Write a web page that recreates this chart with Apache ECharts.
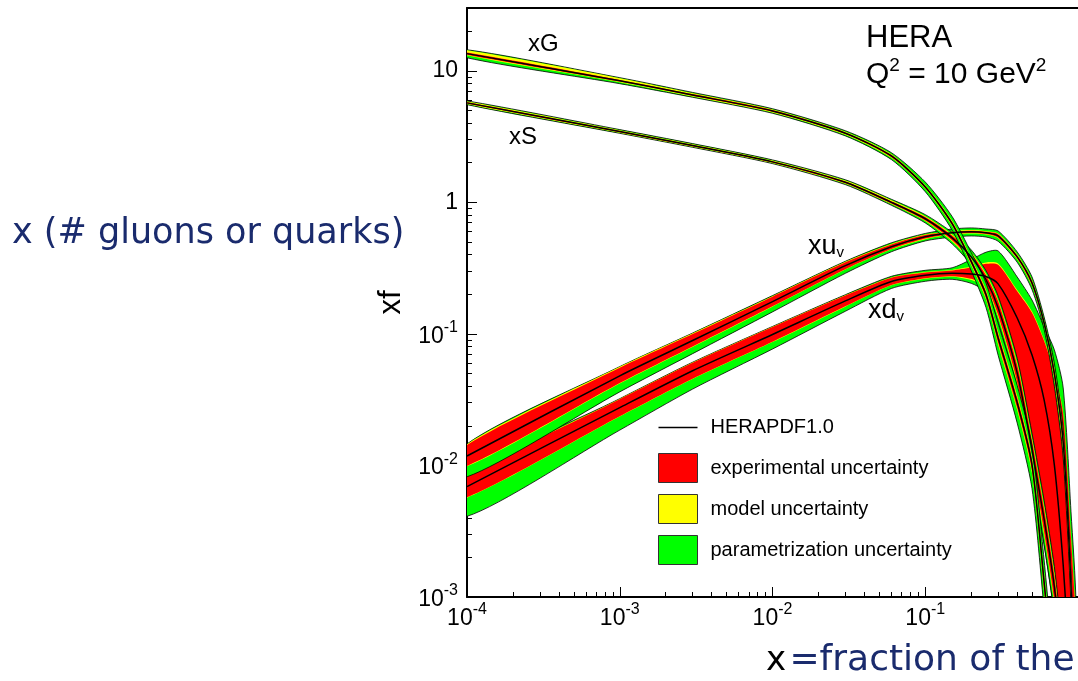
<!DOCTYPE html>
<html>
<head>
<meta charset="utf-8">
<script src="https://cdn.jsdelivr.net/npm/echarts@6/dist/echarts.min.js"></script>
<style>
  html, body { margin: 0; padding: 0; background: #fff; }
  #chart { width: 1078px; height: 681px; }
</style>
</head>
<body>
<div id="chart"></div>
<script>
// x grid shared by all curves
var xValues = [0.0001, 0.001, 0.003, 0.01, 0.03, 0.06, 0.1, 0.15, 0.2, 0.25, 0.3, 0.4, 0.5, 0.6, 0.7, 0.8, 0.9, 0.97];

// xd_v : central value and band widths in percent (exp / model / param, up and down)
var dvCentral = [0.0069, 0.0275, 0.0525, 0.099, 0.178, 0.25, 0.279, 0.289, 0.285, 0.273, 0.24, 0.132, 0.069, 0.0315, 0.0101, 0.00175, 0.0002, 0.00004];
var dvExpUp   = [19, 16, 15, 14, 10, 7, 5, 5, 12, 25, 40, 60, 110, 180, 400, 1300, 1300, 1300];
var dvExpDown = [17, 14, 13, 12, 9, 6, 5, 5, 8, 15, 25, 54, 78, 85, 86, 88, 88, 88];
var dvModUp   = [0.5, 0.5, 0.5, 0.5, 0.5, 0.5, 1, 1, 2, 3, 3, 3, 4, 5, 10, 20, 20, 20];
var dvModDown = [0.5, 0.5, 0.5, 0.5, 0.5, 0.5, 1, 1, 2, 2, 3, 3, 3, 3, 3, 3, 3, 3];
var dvParUp   = [0.5, 0.5, 0.5, 0.5, 1, 2, 3, 4, 15, 25, 35, 42, 48, 75, 240, 800, 800, 800];
var dvParDown = [23, 18, 14, 10, 7, 5, 4, 4, 5, 6, 6, 6, 5, 4, 4, 4, 4, 4];

// xu_v
var uvCentral = [0.0118, 0.048, 0.089, 0.176, 0.33, 0.46, 0.547, 0.586, 0.597, 0.586, 0.556, 0.385, 0.244, 0.121, 0.05, 0.015, 0.0012, 0.0001];
var uvExpUp   = [21, 15, 12, 9, 6, 4, 3, 2, 2, 2, 3, 3, 4, 4, 8, 10, 12, 12];
var uvExpDown = [16, 12, 10, 8, 6, 4, 3, 2, 2, 2, 3, 3, 4, 4, 8, 10, 12, 12];
var uvModUp   = [2, 2, 1.5, 1, 1, 1, 1, 1, 1, 1, 1, 1, 1, 1, 2, 2, 2, 2];
var uvModDown = [0.5, 0.5, 0.5, 0.5, 0.5, 0.5, 1, 1, 1, 1, 1, 1, 1, 1, 2, 2, 2, 2];
var uvParUp   = [0.5, 0.5, 0.5, 1, 1, 2, 2, 4, 4, 4, 5, 5, 6, 6, 10, 12, 12, 12];
var uvParDown = [14, 12, 10, 8, 6, 4, 3, 4, 4, 4, 5, 5, 6, 6, 10, 12, 12, 12];

// xS
var seaCentral = [5.7, 3.45, 2.7, 2.03, 1.42, 1.0, 0.75, 0.537, 0.385, 0.258, 0.158, 0.0505, 0.0131, 0.0039, 0.0012, 0.0003, 0.0001, 0.00003];
var seaExpUp   = [1, 1, 1, 1, 1.5, 2, 3, 4, 6, 8, 12, 15, 18, 20, 22, 22, 22, 22];
var seaExpDown = [1, 1, 1, 1, 1.5, 2, 3, 4, 6, 8, 12, 15, 18, 20, 22, 22, 22, 22];
var seaModUp   = [1.5, 1.5, 1.5, 1.5, 1.5, 1.5, 1.5, 2, 2, 3, 3, 4, 4, 5, 5, 5, 5, 5];
var seaModDown = [1, 1, 1, 1, 1, 1, 1, 2, 2, 2, 3, 3, 4, 4, 4, 4, 4, 4];
var seaParUp   = [1, 1, 1, 1, 1.5, 2, 3, 4, 5, 6, 8, 10, 12, 14, 15, 15, 15, 15];
var seaParDown = [1, 1, 1, 1, 1.5, 2, 3, 4, 5, 6, 7, 8, 10, 12, 12, 12, 12, 12];

// xG
var glueCentral = [13.5, 8.4, 6.55, 4.95, 3.35, 2.25, 1.31, 0.69, 0.355, 0.198, 0.093, 0.030, 0.0101, 0.0013, 0.0002, 0.00006, 0.00003, 0.00002];
var glueExpUp   = [2, 1.5, 1.5, 1.5, 1.5, 2, 2, 3, 4, 6, 8, 9, 10, 12, 14, 15, 15, 15];
var glueExpDown = [2, 1.5, 1.5, 1.5, 1.5, 2, 2, 3, 4, 6, 8, 9, 10, 12, 14, 15, 15, 15];
var glueModUp   = [4, 3, 1.5, 1, 1, 1, 1, 2, 2, 3, 3, 4, 4, 5, 5, 5, 5, 5];
var glueModDown = [1, 1, 1, 1, 1, 1, 1, 1, 2, 2, 3, 3, 4, 4, 4, 4, 4, 4];
var glueParUp   = [1, 1, 1.5, 1.5, 2, 3, 6, 8, 11, 14, 18, 22, 25, 30, 30, 30, 30, 30];
var glueParDown = [4, 2.5, 1.5, 1.5, 2, 3, 5, 7, 9, 12, 15, 18, 20, 22, 22, 22, 22, 22];

// axis ticks
var xMajorTicks = [0.0001, 0.001, 0.01, 0.1, 1];
var yMajorTicks = [0.001, 0.01, 0.1, 1, 10];
var xMinorTicks = [];
var yMinorTicks = [];
[-4, -3, -2, -1].forEach(function (e) {
    for (var m = 2; m <= 9; m++) xMinorTicks.push(m * Math.pow(10, e));
});
[-3, -2, -1, 0, 1].forEach(function (e) {
    for (var m = 2; m <= 9; m++) {
        var v = m * Math.pow(10, e);
        if (v <= 30) yMinorTicks.push(v);
    }
});

var RED = '#ff0000', YELLOW = '#ffff00', GREEN = '#00ff00';
var FONT = 'Liberation Sans';
var NAVY = '#1a2b6d';

// draw order: xd_v, xu_v, xS, xG
var pdfs = [
    { c: dvCentral, eU: dvExpUp, eD: dvExpDown, mU: dvModUp, mD: dvModDown, pU: dvParUp, pD: dvParDown },
    { c: uvCentral, eU: uvExpUp, eD: uvExpDown, mU: uvModUp, mD: uvModDown, pU: uvParUp, pD: uvParDown },
    { c: seaCentral, eU: seaExpUp, eD: seaExpDown, mU: seaModUp, mD: seaModDown, pU: seaParUp, pD: seaParDown },
    { c: glueCentral, eU: glueExpUp, eD: glueExpDown, mU: glueModUp, mD: glueModDown, pU: glueParUp, pD: glueParDown }
];

function bandSeries(name, color, lo, hi, outline) {
    return {
        type: 'custom',
        name: name,
        clip: true,
        silent: true,
        data: [[0.01, 1]],
        renderItem: function (params, api) {
            var pts = [];
            for (var i = 0; i < xValues.length; i++) pts.push(api.coord([xValues[i], hi[i]]));
            for (var j = xValues.length - 1; j >= 0; j--) pts.push(api.coord([xValues[j], lo[j]]));
            return {
                type: 'polygon',
                shape: { points: pts, smooth: 0.25 },
                style: {
                    fill: color,
                    stroke: outline ? '#000' : null,
                    lineWidth: outline ? 0.8 : 0
                }
            };
        }
    };
}

var series = [];
pdfs.forEach(function (p) {
    var n = p.c.length;
    var lvl = function (ups, downs) {
        var hi = [], lo = [];
        for (var i = 0; i < n; i++) {
            var u = 0, d = 0;
            ups.forEach(function (a) { u += a[i]; });
            downs.forEach(function (a) { d += a[i]; });
            hi.push(p.c[i] * (1 + u / 100));
            lo.push(p.c[i] * Math.max(1 - d / 100, 0.02));
        }
        return { hi: hi, lo: lo };
    };
    var tot = lvl([p.eU, p.mU, p.pU], [p.eD, p.mD, p.pD]);
    var mod = lvl([p.eU, p.mU], [p.eD, p.mD]);
    var exp = lvl([p.eU], [p.eD]);
    series.push(bandSeries('parametrization uncertainty', GREEN, tot.lo, tot.hi, true));
    series.push(bandSeries('model uncertainty', YELLOW, mod.lo, mod.hi, false));
    series.push(bandSeries('experimental uncertainty', RED, exp.lo, exp.hi, false));
    series.push({
        type: 'line',
        name: 'HERAPDF1.0',
        data: xValues.map(function (x, i) { return [x, p.c[i]]; }),
        showSymbol: false,
        symbol: 'none',
        smooth: 0.25,
        silent: true,
        itemStyle: { color: '#000' },
        lineStyle: { color: '#000', width: 1.5 }
    });
});

function powLabel(v) {
    var e = Math.round(Math.log10(v));
    if (e === 0) return '{n|1}';
    if (e === 1) return '{n|10}';
    return '{b|10}{s|' + e + '}';
}

var labelRich = {
    n: { fontSize: 23, fontFamily: FONT, color: '#000' },
    b: { fontSize: 23, fontFamily: FONT, color: '#000', lineHeight: 28, verticalAlign: 'bottom' },
    s: { fontSize: 16, fontFamily: FONT, color: '#000', verticalAlign: 'top' }
};

var chart = echarts.init(document.getElementById('chart'));
chart.setOption({
    animation: false,
    backgroundColor: '#fff',
    grid: { left: 467, right: -6, top: 8, bottom: 84 },
    xAxis: [
        {
            type: 'log', min: 0.0001, max: 1, position: 'bottom',
            axisLine: { lineStyle: { color: '#000', width: 2 } },
            axisTick: { inside: true, length: 10, customValues: xMajorTicks, lineStyle: { color: '#000', width: 1 } },
            axisLabel: { customValues: xMajorTicks.slice(0, 4), formatter: powLabel, margin: 5, rich: labelRich },
            splitLine: { show: false }
        },
        {
            type: 'log', min: 0.0001, max: 1, position: 'bottom',
            axisLine: { show: false },
            axisTick: { inside: true, length: 5, customValues: xMinorTicks, lineStyle: { color: '#000', width: 1 } },
            axisLabel: { show: false },
            splitLine: { show: false }
        },
        {
            type: 'log', min: 0.0001, max: 1, position: 'top',
            axisLine: { lineStyle: { color: '#000', width: 2 } },
            axisTick: { show: false },
            axisLabel: { show: false },
            splitLine: { show: false }
        }
    ],
    yAxis: [
        {
            type: 'log', min: 0.001, max: 30, position: 'left',
            name: 'xf', nameLocation: 'middle', nameRotate: 90, nameGap: 45,
            nameTextStyle: { fontSize: 31, fontFamily: FONT, color: '#000' },
            axisLine: { lineStyle: { color: '#000', width: 2 } },
            axisTick: { inside: true, length: 10, customValues: yMajorTicks, lineStyle: { color: '#000', width: 1 } },
            axisLabel: { customValues: yMajorTicks, formatter: powLabel, margin: 9, rich: labelRich },
            splitLine: { show: false }
        },
        {
            type: 'log', min: 0.001, max: 30, position: 'left',
            axisLine: { show: false },
            axisTick: { inside: true, length: 5, customValues: yMinorTicks, lineStyle: { color: '#000', width: 1 } },
            axisLabel: { show: false },
            splitLine: { show: false }
        }
    ],
    legend: {
        left: 658, top: 413, orient: 'vertical', padding: 0,
        itemWidth: 39, itemHeight: 29, itemGap: 11,
        selectedMode: false,
        textStyle: { fontSize: 20, fontFamily: FONT, color: '#000', padding: [0, 0, 0, 8] },
        data: [
            { name: 'HERAPDF1.0', icon: 'path://M0,0M39,29M0,13.7L39,13.7L39,15.3L0,15.3Z', itemStyle: { color: '#000', borderWidth: 0 } },
            { name: 'experimental uncertainty', icon: 'rect', itemStyle: { color: RED, borderColor: '#333', borderWidth: 1 } },
            { name: 'model uncertainty', icon: 'rect', itemStyle: { color: YELLOW, borderColor: '#333', borderWidth: 1 } },
            { name: 'parametrization uncertainty', icon: 'rect', itemStyle: { color: GREEN, borderColor: '#333', borderWidth: 1 } }
        ]
    },
    graphic: [
        { type: 'text', x: 866, y: 38, style: { text: 'HERA', fontSize: 31, fontFamily: FONT, fill: '#000', verticalAlign: 'middle' } },
        { type: 'text', x: 866, y: 73, style: {
            text: '{m|Q}{s|2}{m| = 10 GeV}{s|2}', verticalAlign: 'middle',
            rich: {
                m: { fontSize: 30, fontFamily: FONT, fill: '#000', lineHeight: 34, verticalAlign: 'bottom' },
                s: { fontSize: 19, fontFamily: FONT, fill: '#000', verticalAlign: 'top' }
            }
        } },
        { type: 'text', x: 528, y: 44, style: { text: 'xG', fontSize: 24, fontFamily: FONT, fill: '#000', verticalAlign: 'middle' } },
        { type: 'text', x: 509, y: 137, style: { text: 'xS', fontSize: 24, fontFamily: FONT, fill: '#000', verticalAlign: 'middle' } },
        { type: 'text', x: 808, y: 247, style: {
            text: '{m|xu}{v|v}', verticalAlign: 'middle',
            rich: {
                m: { fontSize: 27, fontFamily: FONT, fill: '#000' },
                v: { fontSize: 15, fontFamily: FONT, fill: '#000', verticalAlign: 'bottom' }
            }
        } },
        { type: 'text', x: 868, y: 311, style: {
            text: '{m|xd}{v|v}', verticalAlign: 'middle',
            rich: {
                m: { fontSize: 27, fontFamily: FONT, fill: '#000' },
                v: { fontSize: 15, fontFamily: FONT, fill: '#000', verticalAlign: 'bottom' }
            }
        } },
        { type: 'text', x: 12, y: 234, style: { text: 'x (# gluons or quarks)', fontSize: 35, fontFamily: 'DejaVu Sans', fill: NAVY, verticalAlign: 'middle' } },
        { type: 'text', x: 766, y: 661, style: {
            text: '{k|x} {b|=fraction of the}', verticalAlign: 'middle',
            rich: {
                k: { fontSize: 34, fontFamily: 'DejaVu Sans', fill: '#000' },
                b: { fontSize: 36, fontFamily: 'DejaVu Sans', fill: NAVY }
            }
        } }
    ],
    series: series
});
</script>
</body>
</html>
